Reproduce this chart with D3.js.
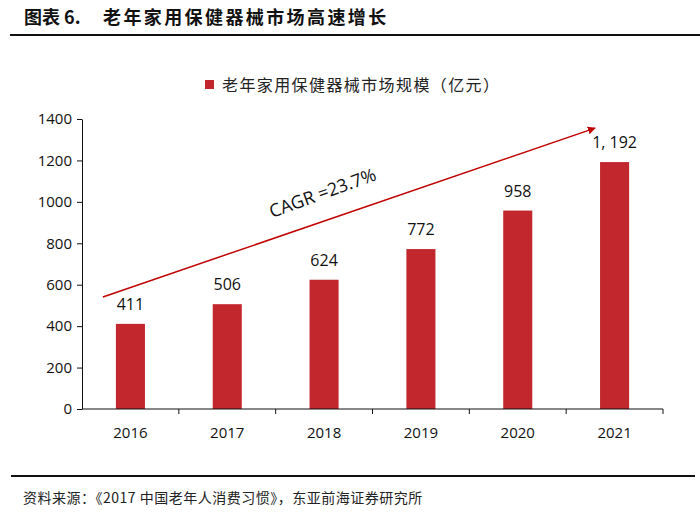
<!DOCTYPE html>
<html><head><meta charset="utf-8">
<script src="https://cdn.jsdelivr.net/npm/d3@7"></script>
<style>body{margin:0;background:#fff}svg{display:block}</style>
</head><body>
<script>
const categories = ["2016","2017","2018","2019","2020","2021"];
const values = [411, 506, 624, 772, 958, 1192];
const valueLabels = ["411","506","624","772","958","1, 192"];
const yTicks = [0,200,400,600,800,1000,1200,1400];
const seriesName = "老年家用保健器械市场规模（亿元）";
const titlePrefix = "图表 6.";
const titleText = "老年家用保健器械市场高速增长";
const sourceText = "资料来源：《2017 中国老年人消费习惯》，东亚前海证券研究所";
const cagrText = "CAGR =23.7%";
const arrowFrom = {cat:"2016", value:541};
const arrowTo = {cat:"2021", value:1356};

const W=700,H=512;
const svg=d3.select("body").append("svg").attr("width",W).attr("height",H);
const red="#c1272d";
const cjk="'Noto Sans CJK SC','Noto Sans',sans-serif";
const num="'Open Sans','Noto Sans',sans-serif";

// Title
svg.append("text").attr("x",24).attr("y",24).attr("font-family",cjk).attr("font-weight","bold")
  .attr("font-size",18).attr("fill","#111").text(titlePrefix);
svg.append("text").attr("x",103).attr("y",24).attr("font-family",cjk).attr("font-weight","bold")
  .attr("font-size",18).attr("letter-spacing",2.4).attr("fill","#111").text(titleText);
svg.append("line").attr("x1",10).attr("x2",700).attr("y1",35).attr("y2",35).attr("stroke","#111").attr("stroke-width",2);

// Scales
const x=d3.scaleBand().domain(categories).range([82,663]).paddingInner(0.7).paddingOuter(0.35);
const y=d3.scaleLinear().domain([0,1400]).range([409,119]);

// Legend
svg.append("rect").attr("x",205).attr("y",80).attr("width",9).attr("height",9).attr("fill",red);
svg.append("text").attr("x",222).attr("y",91).attr("font-family",cjk).attr("font-size",16)
  .attr("letter-spacing",1.4).attr("fill","#222").text(seriesName);

// Bars
svg.selectAll("rect.bar").data(values).enter().append("rect").attr("class","bar")
  .attr("x",(d,i)=>x(categories[i])).attr("width",x.bandwidth())
  .attr("y",d=>y(d)).attr("height",d=>y(0)-y(d)).attr("fill",red);

// Value labels
svg.selectAll("text.vl").data(values).enter().append("text").attr("class","vl")
  .attr("x",(d,i)=>x(categories[i])+x.bandwidth()/2).attr("y",d=>y(d)-14)
  .attr("text-anchor","middle").attr("font-family",num).attr("font-size",16).attr("fill","#111")
  .text((d,i)=>valueLabels[i]);

// Y axis
const yAxis=d3.axisLeft(y).tickValues(yTicks).tickSize(5).tickSizeOuter(0).tickFormat(d3.format("d"));
const gy=svg.append("g").attr("transform","translate(82,0)").call(yAxis);
gy.selectAll("text").attr("font-family",num).attr("font-size",15).attr("fill","#111").attr("dx",-2);
gy.selectAll("line").attr("stroke","#111");
gy.select(".domain").attr("stroke","#111");

// X axis
const gx=svg.append("g").attr("transform","translate(0,409)");
gx.append("line").attr("x1",82).attr("x2",663).attr("stroke","#111").attr("stroke-width",1.2);
const step=x.step();
const bounds=categories.map(c=>x(c)+x.bandwidth()/2+step/2);
gx.selectAll("line.tk").data(bounds).enter().append("line").attr("class","tk")
  .attr("x1",d=>d).attr("x2",d=>d).attr("y1",0).attr("y2",5).attr("stroke","#111");
gx.selectAll("text").data(categories).enter().append("text")
  .attr("x",d=>x(d)+x.bandwidth()/2).attr("y",29).attr("text-anchor","middle")
  .attr("font-family",num).attr("font-size",15).attr("fill","#111").text(d=>d);

// Arrow
const defs=svg.append("defs");
defs.append("marker").attr("id","ah").attr("viewBox","0 0 10 10").attr("refX",9).attr("refY",5)
  .attr("markerWidth",8).attr("markerHeight",8).attr("markerUnits","userSpaceOnUse").attr("orient","auto")
  .append("path").attr("d","M0,0L10,5L0,10z").attr("fill","#c00000");
const ax1=x(arrowFrom.cat)+x.bandwidth()/2-27.5, ay1=y(arrowFrom.value);
const ax2=x(arrowTo.cat)+x.bandwidth()/2-19.5, ay2=y(arrowTo.value);
svg.append("line").attr("x1",ax1).attr("y1",ay1).attr("x2",ax2).attr("y2",ay2)
  .attr("stroke","#c00000").attr("stroke-width",1.5).attr("marker-end","url(#ah)");

// CAGR text
svg.append("text").attr("transform","translate(272,218) rotate(-20)")
  .attr("font-family",num).attr("font-size",18).attr("fill","#111").text(cagrText);

// Footer
svg.append("line").attr("x1",11).attr("x2",695).attr("y1",476).attr("y2",476).attr("stroke","#111").attr("stroke-width",2);
svg.append("text").attr("x",23).attr("y",503).attr("font-family",cjk).attr("font-size",14)
  .attr("letter-spacing",0.5).attr("fill","#222").text(sourceText);
</script>
</body></html>
